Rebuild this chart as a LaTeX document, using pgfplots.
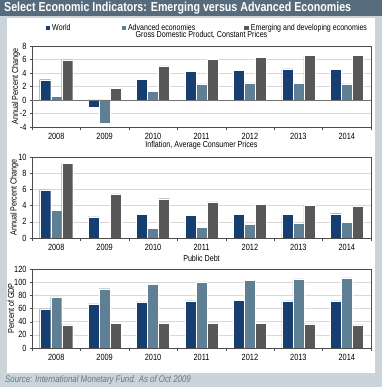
\documentclass[border=0pt]{standalone}
\usepackage{pgfplots}
\pgfplotsset{compat=1.18}
\usepackage{fontspec}
\setmainfont{Liberation Sans}[FakeStretch=0.82]
\definecolor{bgc}{RGB}{203,212,218}
\definecolor{barc}{RGB}{86,108,125}
\definecolor{worldc}{RGB}{22,62,112}
\definecolor{advc}{RGB}{95,128,148}
\definecolor{emc}{RGB}{88,88,88}
\definecolor{srcc}{RGB}{100,120,138}
\pgfplotsset{
  mystyle/.style={
    scale only axis, width=339pt,
    ybar=0pt, bar width=11pt,
    xmin=-0.5, xmax=6.5,
    xtick={0,...,6}, xticklabels={2008,2009,2010,2011,2012,2013,2014},
    minor xtick={-0.5,0.5,...,6.5},
    major x tick style={draw=none},
    minor x tick style={black!70},
    minor tick length=3pt,
    major tick length=2pt,
    tick align=outside,
    xtick pos=bottom, ytick pos=left,
    ymajorgrids, grid style={black!15},
    axis line style={black!70},
    y tick style={black!70},
    tick label style={font=\fontsize{9}{9}\selectfont},
    /pgf/number format/assume math mode=true,
    label style={font=\fontsize{8.8}{8.8}\selectfont},
    title style={font=\fontsize{8.7}{8.7}\selectfont, inner sep=0pt, yshift=1pt},
    ylabel style={yshift=-7pt},
    xticklabel style={yshift=-1pt},
    legend image code/.code={\fill[##1] (0pt,-2.6pt) rectangle (5.2pt,2.6pt);},
  },
  wbar/.style={fill=worldc, draw=white, line width=0.3pt},
  abar/.style={fill=advc, draw=white, line width=0.3pt},
  ebar/.style={fill=emc, draw=white, line width=0.3pt},
}
\begin{document}
\begin{tikzpicture}[x=1pt,y=1pt]
\fill[bgc] (0,0) rectangle (382,387);
\fill[barc] (0,371) rectangle (382,387);
\node[anchor=west,text=white,font=\bfseries\fontsize{13}{13}\selectfont,inner sep=0pt] at (4,379) {Select Economic Indicators: Emerging versus Advanced Economies};
\fill[white] (7,14) rectangle (375,369);
\node[anchor=west, font=\itshape\fontsize{9.6}{10}\selectfont, text=srcc, inner sep=0pt] at (5,6.5) {Source: International Monetary Fund. As of Oct 2009};

% GDP
\begin{axis}[mystyle, height=81pt, at={(32pt,260pt)}, anchor=south west,
  ymin=-4, ymax=8, ytick={-4,-2,...,8},
  title={Gross Domestic Product, Constant Prices},
  ylabel={Annual Percent Change},
  legend columns=3,
  legend style={draw=none, fill=none, at={(0.037,1.222)}, anchor=west,
    inner sep=0pt,
    font=\fontsize{8.6}{8.6}\selectfont,
    /tikz/every even column/.style={column sep=0pt},
    /tikz/every odd column/.style={column sep=0pt}},
]
\addplot[wbar] coordinates {(0,3.0) (1,-1.05) (2,3.1) (3,4.2) (4,4.4) (5,4.6) (6,4.5)};
\addplot[abar] coordinates {(0,0.5) (1,-3.4) (2,1.3) (3,2.4) (4,2.55) (5,2.5) (6,2.4)};
\addplot[ebar] coordinates {(0,5.95) (1,1.7) (2,5.05) (3,6.05) (4,6.35) (5,6.6) (6,6.6)};
\draw[black!55, line width=0.7pt] (axis cs:-0.5,0) -- (axis cs:6.5,0);
\legend{World\hspace*{48pt}, Advanced economies\hspace*{46pt}, Emerging and developing economies}
\end{axis}

% Inflation
\begin{axis}[mystyle, height=81pt, at={(32pt,149pt)}, anchor=south west,
  ymin=0, ymax=10, ytick={0,2,...,10},
  title={Inflation, Average Consumer Prices},
  ylabel={Annual Percent Change},
]
\addplot[wbar] coordinates {(0,5.95) (1,2.6) (2,2.9) (3,2.8) (4,2.9) (5,2.9) (6,3.0)};
\addplot[abar] coordinates {(0,3.4) (1,0.1) (2,1.2) (3,1.3) (4,1.7) (5,1.8) (6,1.9)};
\addplot[ebar] coordinates {(0,9.2) (1,5.45) (2,4.85) (3,4.45) (4,4.15) (5,4.05) (6,3.95)};
\end{axis}

% Public debt
\begin{axis}[mystyle, height=79pt, at={(32pt,39pt)}, anchor=south west,
  ymin=0, ymax=120, ytick={0,20,...,120},
  title={Public Debt},
  ylabel={Percent of GDP},
]
\addplot[wbar] coordinates {(0,59.5) (1,67) (2,70) (3,71.5) (4,72) (5,71.5) (6,71.5)};
\addplot[abar] coordinates {(0,77.5) (1,90) (2,97) (3,100.5) (4,102.5) (5,105) (6,106.5)};
\addplot[ebar] coordinates {(0,35) (1,37) (2,38) (3,38) (4,37) (5,36.5) (6,35)};
\end{axis}
\end{tikzpicture}
\end{document}
